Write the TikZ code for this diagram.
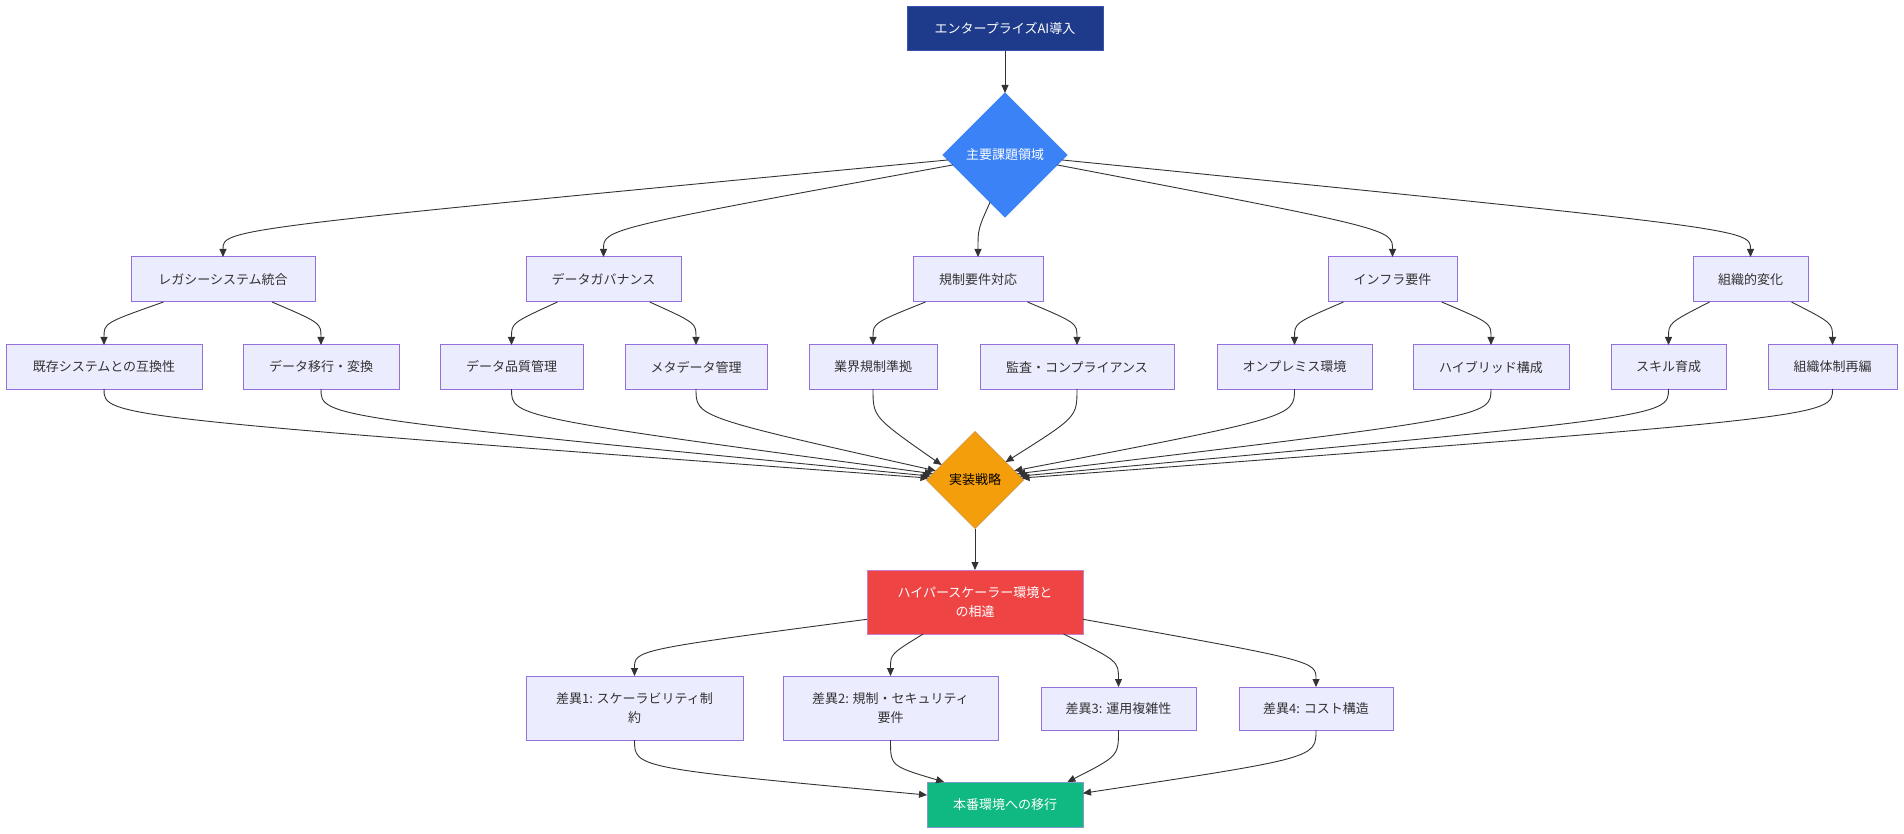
\documentclass[tikz,border=0pt]{standalone}
\usepackage{fontspec}
\setmainfont{Noto Sans CJK JP}
\usetikzlibrary{shapes.geometric,arrows.meta,calc}
\definecolor{nodefill}{HTML}{ECECFF}
\definecolor{nodestroke}{HTML}{9370DB}
\definecolor{edgecol}{HTML}{333333}
\definecolor{textgray}{HTML}{333333}
\definecolor{navy}{HTML}{1E3A8A}
\definecolor{navyline}{HTML}{3D52B0}
\definecolor{bluefill}{HTML}{3B82F6}
\definecolor{amber}{HTML}{F59E0B}
\definecolor{amberline}{HTML}{C98A2E}
\definecolor{redfill}{HTML}{EF4444}
\definecolor{redline}{HTML}{C77DC7}
\definecolor{greenfill}{HTML}{10B981}
\definecolor{greenline}{HTML}{7F9CC8}
\begin{document}
\begin{tikzpicture}[x=1pt,y=-1pt,
  every node/.style={font=\fontsize{13}{19}\selectfont, inner sep=0pt, outer sep=0pt},
  plainbox/.style={rectangle, draw=nodestroke, fill=nodefill, line width=1pt, text=textgray, align=center},
  topbox/.style={rectangle, draw=navyline, fill=navy, line width=1pt, text=white, align=center},
  hyperbox/.style={rectangle, draw=redline, fill=redfill, line width=1pt, text=white, align=center},
  prodbox/.style={rectangle, draw=greenline, fill=greenfill, line width=1pt, text=white, align=center},
  bluedia/.style={diamond, aspect=1, fill=bluefill, draw=bluefill, line width=1pt, text=white},
  amberdia/.style={diamond, aspect=1, fill=amber, draw=amberline, line width=0.6pt, text=black},
  arr/.style={draw=edgecol, line width=0.9pt, -{Triangle[length=8pt,width=7pt]}}
]
\fill[white] (0,0) rectangle (1904,834);
\useasboundingbox (0,0) rectangle (1904,834);

% top
\node[topbox, minimum width=196, minimum height=44] (top) at (1005,29) {エンタープライズAI導入};
\node[bluedia, minimum width=124, minimum height=124] (d1) at (1005,155) {主要課題領域};

% level 2
\node[plainbox, minimum width=184, minimum height=45] (a1) at (223,279.5) {レガシーシステム統合};
\node[plainbox, minimum width=155, minimum height=45] (a2) at (603.5,279.5) {データガバナンス};
\node[plainbox, minimum width=130, minimum height=45] (a3) at (978,279.5) {規制要件対応};
\node[plainbox, minimum width=129, minimum height=45] (a4) at (1392.5,279.5) {インフラ要件};
\node[plainbox, minimum width=115, minimum height=45] (a5) at (1750.5,279.5) {組織的変化};

% level 3
\node[plainbox, minimum width=196, minimum height=44] (b1) at (104,367) {既存システムとの互換性};
\node[plainbox, minimum width=156, minimum height=44] (b2) at (321,367) {データ移行・変換};
\node[plainbox, minimum width=143, minimum height=44] (b3) at (511.5,367) {データ品質管理};
\node[plainbox, minimum width=142, minimum height=44] (b4) at (696,367) {メタデータ管理};
\node[plainbox, minimum width=128, minimum height=44] (b5) at (873,367) {業界規制準拠};
\node[plainbox, minimum width=194, minimum height=44] (b6) at (1077,367) {監査・コンプライアンス};
\node[plainbox, minimum width=155, minimum height=44] (b7) at (1294.5,367) {オンプレミス環境};
\node[plainbox, minimum width=156, minimum height=44] (b8) at (1491,367) {ハイブリッド構成};
\node[plainbox, minimum width=115, minimum height=44] (b9) at (1668.5,367) {スキル育成};
\node[plainbox, minimum width=129, minimum height=44] (b10) at (1832.5,367) {組織体制再編};

% level 4
\node[amberdia, minimum width=97, minimum height=97] (d2) at (975,480) {実装戦略};
\node[hyperbox, minimum width=216, minimum height=64] (h) at (975,602) {ハイパースケーラー環境と\\の相違};

% level 5
\node[plainbox, minimum width=217, minimum height=64] (c1) at (634.5,708) {差異1: スケーラビリティ制\\約};
\node[plainbox, minimum width=215, minimum height=64] (c2) at (890.5,708) {差異2: 規制・セキュリティ\\要件};
\node[plainbox, minimum width=155, minimum height=43] (c3) at (1118.5,708.5) {差異3: 運用複雑性};
\node[plainbox, minimum width=154, minimum height=43] (c4) at (1316,708.5) {差異4: コスト構造};
\node[prodbox, minimum width=156, minimum height=45] (p) at (1005,804.5) {本番環境への移行};

% edges top
\draw[arr] (top.south) -- (d1.north);

% d1 -> level 2
\draw[arr] ($(d1.west)!0.08!(d1.south)$) .. controls ($(a1.north)+(0,-28)$) .. (a1.north);
\draw[arr] ($(d1.west)!0.16!(d1.south)$) .. controls ($(a2.north)+(0,-28)$) .. (a2.north);
\draw[arr] ($(d1.west)!0.76!(d1.south)$) .. controls ($(a3.north)+(0,-28)$) .. (a3.north);
\draw[arr] ($(d1.east)!0.16!(d1.south)$) .. controls ($(a4.north)+(0,-28)$) .. (a4.north);
\draw[arr] ($(d1.east)!0.08!(d1.south)$) .. controls ($(a5.north)+(0,-28)$) .. (a5.north);

% level 2 -> level 3
\draw[arr] ($(a1.south)!0.5!(b1.north |- a1.south)$) .. controls ($(b1.north)+(0,-22)$) .. (b1.north);
\draw[arr] ($(a1.south)!0.5!(b2.north |- a1.south)$) .. controls ($(b2.north)+(0,-22)$) .. (b2.north);
\draw[arr] ($(a2.south)!0.5!(b3.north |- a2.south)$) .. controls ($(b3.north)+(0,-22)$) .. (b3.north);
\draw[arr] ($(a2.south)!0.5!(b4.north |- a2.south)$) .. controls ($(b4.north)+(0,-22)$) .. (b4.north);
\draw[arr] ($(a3.south)!0.5!(b5.north |- a3.south)$) .. controls ($(b5.north)+(0,-22)$) .. (b5.north);
\draw[arr] ($(a3.south)!0.5!(b6.north |- a3.south)$) .. controls ($(b6.north)+(0,-22)$) .. (b6.north);
\draw[arr] ($(a4.south)!0.5!(b7.north |- a4.south)$) .. controls ($(b7.north)+(0,-22)$) .. (b7.north);
\draw[arr] ($(a4.south)!0.5!(b8.north |- a4.south)$) .. controls ($(b8.north)+(0,-22)$) .. (b8.north);
\draw[arr] ($(a5.south)!0.5!(b9.north |- a5.south)$) .. controls ($(b9.north)+(0,-22)$) .. (b9.north);
\draw[arr] ($(a5.south)!0.5!(b10.north |- a5.south)$) .. controls ($(b10.north)+(0,-22)$) .. (b10.north);

% level 3 -> d2
\draw[arr] (b1.south) .. controls ($(b1.south)+(0,28)$) .. ($(d2.west)!0.04!(d2.north)$);
\draw[arr] (b2.south) .. controls ($(b2.south)+(0,28)$) .. ($(d2.west)!0.08!(d2.north)$);
\draw[arr] (b3.south) .. controls ($(b3.south)+(0,28)$) .. ($(d2.west)!0.13!(d2.north)$);
\draw[arr] (b4.south) .. controls ($(b4.south)+(0,28)$) .. ($(d2.west)!0.19!(d2.north)$);
\draw[arr] (b5.south) .. controls ($(b5.south)+(0,28)$) .. ($(d2.west)!0.31!(d2.north)$);
\draw[arr] (b6.south) .. controls ($(b6.south)+(0,28)$) .. ($(d2.east)!0.37!(d2.north)$);
\draw[arr] (b7.south) .. controls ($(b7.south)+(0,28)$) .. ($(d2.east)!0.19!(d2.north)$);
\draw[arr] (b8.south) .. controls ($(b8.south)+(0,28)$) .. ($(d2.east)!0.13!(d2.north)$);
\draw[arr] (b9.south) .. controls ($(b9.south)+(0,28)$) .. ($(d2.east)!0.08!(d2.north)$);
\draw[arr] (b10.south) .. controls ($(b10.south)+(0,28)$) .. ($(d2.east)!0.04!(d2.north)$);

% d2 -> hyper
\draw[arr] (d2.south) -- (h.north);

% hyper -> level 5
\draw[arr] ($(h.north west)!0.77!(h.south west)$) .. controls ($(c1.north)+(0,-26)$) .. (c1.north);
\draw[arr] ($(h.south west)!0.26!(h.south east)$) .. controls ($(c2.north)+(0,-22)$) .. (c2.north);
\draw[arr] ($(h.south west)!0.91!(h.south east)$) .. controls ($(c3.north)+(0,-26)$) .. (c3.north);
\draw[arr] ($(h.north east)!0.77!(h.south east)$) .. controls ($(c4.north)+(0,-26)$) .. (c4.north);

% level 5 -> prod
\draw[arr] (c1.south) .. controls ($(c1.south)+(0,28)$) .. ($(p.north west)!0.29!(p.south west)$);
\draw[arr] (c2.south) .. controls ($(c2.south)+(0,26)$) .. ($(p.north west)!0.11!(p.north east)$);
\draw[arr] (c3.south) .. controls ($(c3.south)+(0,26)$) .. ($(p.north west)!0.9!(p.north east)$);
\draw[arr] (c4.south) .. controls ($(c4.south)+(0,28)$) .. ($(p.north east)!0.25!(p.south east)$);
\end{tikzpicture}
\end{document}
